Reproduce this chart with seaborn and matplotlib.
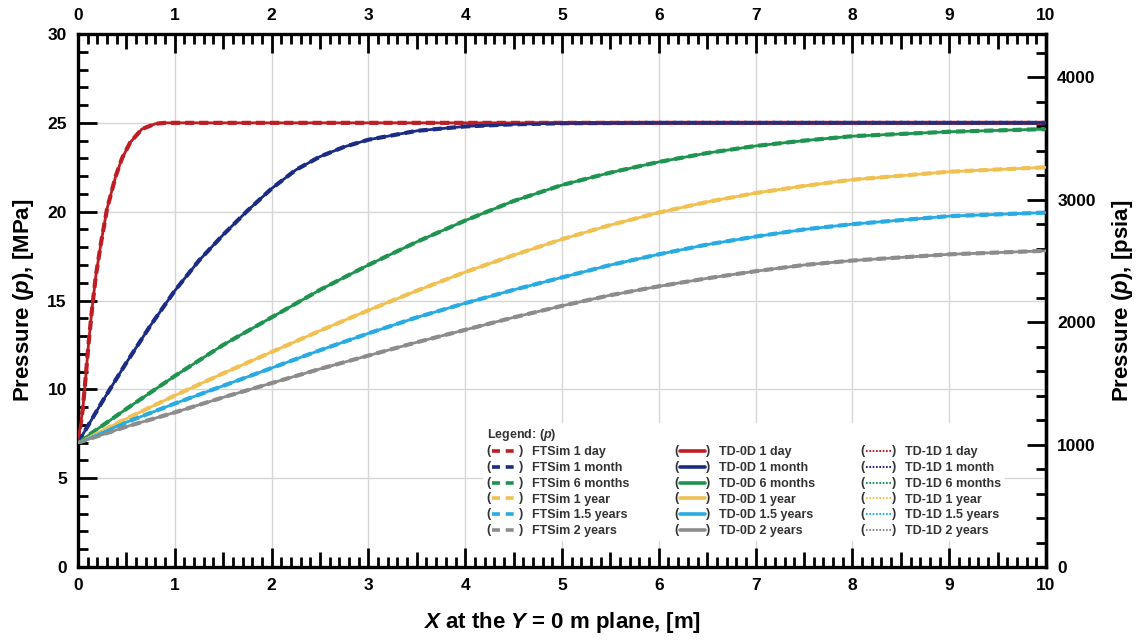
import numpy as np
import pandas as pd
import matplotlib
matplotlib.use("Agg")
import matplotlib.pyplot as plt
import seaborn as sns
from matplotlib.legend_handler import HandlerLine2D
from matplotlib.lines import Line2D
from matplotlib.text import Text
from matplotlib.ticker import MultipleLocator

# ---------------- data ----------------
periods = ["1 day", "1 month", "6 months", "1 year", "1.5 years", "2 years"]
colors = ["#BE1E23", "#1B2C84", "#1E9450", "#F0C050", "#28AAE2", "#8C8C8C"]

x_1day = [0, 0.05, 0.08, 0.11, 0.145, 0.185, 0.24, 0.30, 0.39, 0.455, 0.54, 0.66, 0.80, 0.90, 1.0, 10]
p_1day = [7.0, 8.9, 10.7, 12.6, 14.5, 16.4, 18.3, 20.15, 22.0, 23.0, 23.9, 24.65, 24.95, 25.0, 25.0, 25.0]

x_1month = [0, 0.25, 0.5, 0.75, 1.0, 1.25, 1.5, 1.75, 2.0, 2.25, 2.5, 2.75, 3.0, 3.5, 4.0, 4.5, 5.0, 6.0, 10]
p_1month = [7.0, 9.3, 11.5, 13.6, 15.55, 17.25, 18.7, 20.05, 21.3, 22.35, 23.1, 23.65, 24.05, 24.55, 24.8, 24.92, 24.98, 25.0, 25.0]

x_slow = [0, 0.5, 1, 1.5, 2, 2.5, 3, 3.5, 4, 4.5, 5, 5.5, 6, 6.5, 7, 7.5, 8, 9, 10]
p_6months = [7.0, 8.9, 10.75, 12.5, 14.05, 15.6, 17.0, 18.3, 19.5, 20.6, 21.5, 22.2, 22.8, 23.3, 23.7, 24.0, 24.25, 24.5, 24.65]
p_1year = [7.0, 8.35, 9.65, 10.9, 12.1, 13.3, 14.45, 15.55, 16.6, 17.55, 18.45, 19.25, 19.95, 20.55, 21.05, 21.45, 21.8, 22.25, 22.5]
p_15years = [7.0, 8.15, 9.2, 10.2, 11.2, 12.2, 13.15, 14.05, 14.85, 15.6, 16.3, 17.0, 17.6, 18.15, 18.6, 19.0, 19.3, 19.75, 19.95]
p_2years = [7.0, 7.9, 8.7, 9.55, 10.35, 11.15, 11.9, 12.65, 13.35, 14.05, 14.7, 15.3, 15.8, 16.25, 16.65, 17.0, 17.25, 17.6, 17.8]

xs = [x_1day, x_1month, x_slow, x_slow, x_slow, x_slow]
ps = [p_1day, p_1month, p_6months, p_1year, p_15years, p_2years]

models = ["FTSim", "TD-0D", "TD-1D"]

# ---------------- style ----------------
sns.set_theme(style="white")
plt.rcParams.update({
    "font.family": ["Liberation Sans", "DejaVu Sans"],
    "mathtext.fontset": "custom",
    "mathtext.rm": "Liberation Sans:bold",
    "mathtext.it": "Liberation Sans:italic:bold",
    "mathtext.bf": "Liberation Sans:bold",
    "text.color": "black",
    "axes.labelcolor": "black",
    "xtick.color": "black",
    "ytick.color": "black",
})

fig = plt.figure(figsize=(11.38, 6.42), dpi=100)
ax = fig.add_axes([0.0685, 0.1168, 0.8507, 0.8302])

handles = {m: [] for m in models}
for per, col, xv, pv in zip(periods, colors, xs, ps):
    df = pd.DataFrame({"x": xv, "p": pv})
    sns.lineplot(data=df, x="x", y="p", ax=ax, color=col, lw=3.0,
                 linestyle=(0, (2.2, 1.2)), sort=False, estimator=None, zorder=2)
    sns.lineplot(data=df, x="x", y="p", ax=ax, color=col, lw=2.0,
                 sort=False, estimator=None, zorder=3)
    sns.lineplot(data=df, x="x", y="p", ax=ax, color=col, lw=1.2,
                 linestyle=(0, (1, 1)), sort=False, estimator=None, zorder=4)
    handles["FTSim"].append(Line2D([], [], color=col, lw=2.6, linestyle=(0, (2.2, 1.6)),
                                   label=f"FTSim {per}"))
    handles["TD-0D"].append(Line2D([], [], color=col, lw=2.6, label=f"TD-0D {per}"))
    handles["TD-1D"].append(Line2D([], [], color=col, lw=1.5, linestyle=(0, (0.8, 0.8)),
                                   label=f"TD-1D {per}"))

ax.set_xlim(0, 10)
ax.set_ylim(0, 30)
ax.xaxis.set_major_locator(MultipleLocator(1))
ax.xaxis.set_minor_locator(MultipleLocator(0.1))
ax.yaxis.set_major_locator(MultipleLocator(5))
ax.yaxis.set_minor_locator(MultipleLocator(1))
ax.grid(True, which="major", color="#d6d6d6", lw=1.0)
ax.set_axisbelow(True)

spine_w = 2.4
for s in ax.spines.values():
    s.set_linewidth(spine_w)
    s.set_color("black")

ax.tick_params(axis="x", which="both", direction="in", top=True, bottom=True,
               labeltop=True, labelbottom=True, width=2.0, color="black")
ax.tick_params(axis="y", which="both", direction="in", left=True, right=False,
               width=2.0, color="black")
ax.tick_params(which="major", length=14, labelsize=12.5, pad=8, labelcolor="black")
ax.tick_params(which="minor", length=7)
for t in ax.xaxis.get_major_ticks():
    t.label1.set_fontweight("bold")
    t.label2.set_fontweight("bold")
for t in ax.yaxis.get_major_ticks():
    t.label1.set_fontweight("bold")

# longer ticks at the half-unit positions of the x axis
minor_locs = ax.xaxis.get_minorticklocs()
minor_ticks = ax.xaxis.get_minor_ticks(len(minor_locs))
for loc, tk in zip(minor_locs, minor_ticks):
    if abs((loc % 1.0) - 0.5) < 1e-6:
        tk.tick1line.set_markersize(11)
        tk.tick2line.set_markersize(11)

# right psia axis
MPA2PSI = 145.0377
sy = ax.secondary_yaxis("right", functions=(lambda v: v * MPA2PSI, lambda v: v / MPA2PSI))
sy.yaxis.set_major_locator(MultipleLocator(1000))
sy.yaxis.set_minor_locator(MultipleLocator(200))
sy.tick_params(which="both", direction="in", width=2.0, color="black")
sy.tick_params(which="major", length=14, labelsize=12.5, pad=8, labelcolor="black")
sy.tick_params(which="minor", length=7)
sy.spines["right"].set_linewidth(spine_w)
sy.xaxis.set_visible(False)
for t in sy.yaxis.get_major_ticks():
    t.label2.set_fontweight("bold")
    t.label1.set_fontweight("bold")
sy.set_ylabel(r"Pressure ($p$), [psia]", fontsize=16, fontweight="bold", labelpad=10,
              rotation=90)

ax.set_xlabel(r"$X$ at the $Y$ = 0 m plane, [m]", fontsize=16, fontweight="bold", labelpad=12)
ax.set_ylabel(r"Pressure ($p$), [MPa]", fontsize=16, fontweight="bold", labelpad=8)


# ---------------- legend with "( line )" handles ----------------
class ParenHandler(HandlerLine2D):
    def create_artists(self, legend, orig_handle, xdescent, ydescent, width, height,
                       fontsize, trans):
        off = 0.45 * fontsize
        arts = super().create_artists(legend, orig_handle, xdescent - off, ydescent,
                                      width - 2 * off, height, fontsize, trans)
        yc = (height - ydescent) / 2
        lp = Text(-xdescent, yc, "(", ha="left", va="center", fontsize=fontsize,
                  fontweight="bold", color="#333333", transform=trans)
        rp = Text(-xdescent + width, yc, ")", ha="right", va="center", fontsize=fontsize,
                  fontweight="bold", color="#333333", transform=trans)
        return list(arts) + [lp, rp]


all_handles = handles["FTSim"] + handles["TD-0D"] + handles["TD-1D"]
leg = ax.legend(handles=all_handles, ncol=3, loc="upper left",
                bbox_to_anchor=(0.412, 0.282), fontsize=9, frameon=True,
                facecolor="white", edgecolor="none", framealpha=1.0,
                borderpad=0.3, handlelength=2.9, handletextpad=0.7,
                columnspacing=3.6, labelspacing=0.3,
                title=r"Legend: ($p$)", alignment="left",
                title_fontproperties={"size": 9, "weight": "bold"},
                handler_map={Line2D: ParenHandler()})
for txt in leg.get_texts():
    txt.set_fontweight("bold")
    txt.set_color("#333333")
leg.get_title().set_color("#333333")
leg.set_zorder(10)

fig.savefig("out.png", dpi=100)
